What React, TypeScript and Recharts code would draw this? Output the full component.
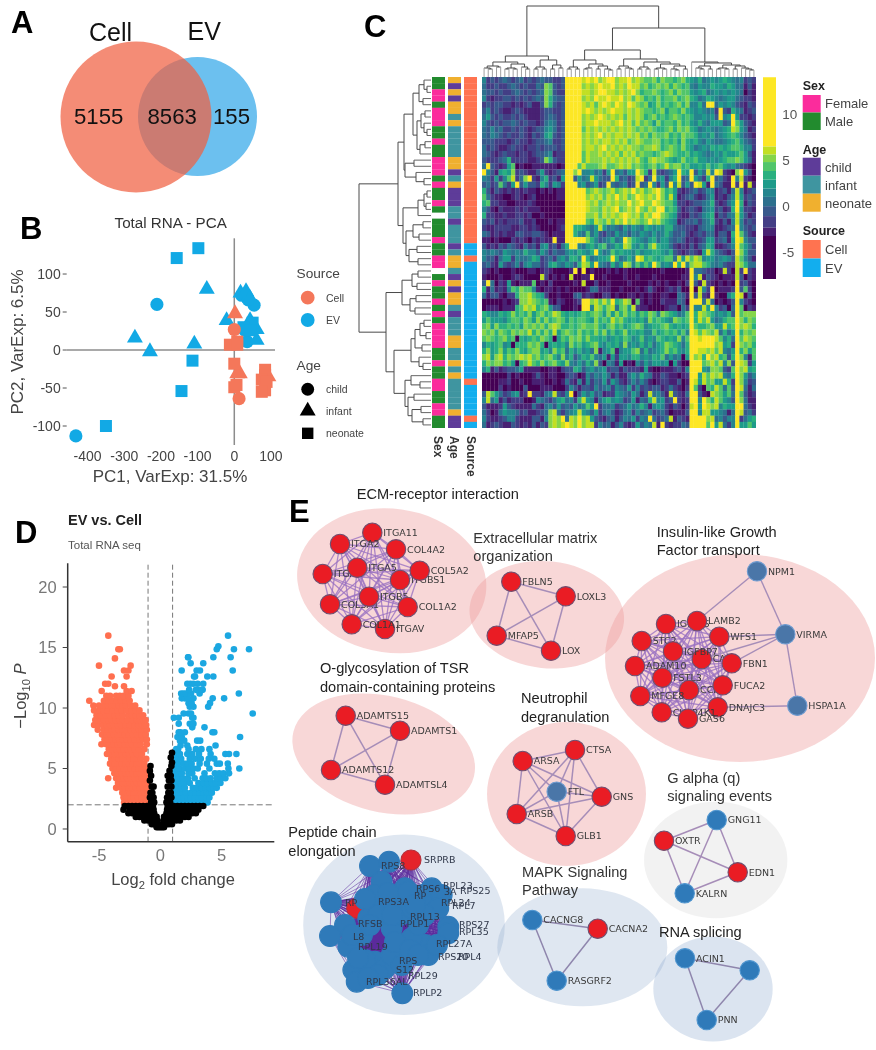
import {
  Bar,
  BarChart,
  ReferenceLine,
  Scatter,
  ScatterChart,
  Symbols,
  XAxis,
  YAxis,
} from "recharts";

const SANS = "'Liberation Sans', Arial, sans-serif";
const DEJAVU = "'DejaVu Sans', sans-serif";

// Panel A
const vennSets = [
  { name: "EV", x: 197.5, y: 116.5, r: 59.5, fill: "#6cc0ef", opacity: 1 },
  { name: "Cell", x: 136, y: 117, r: 75.5, fill: "#f05f41", opacity: 0.72 },
];

// Panel B
const pcaCellCircle = [[0, 27], [13, -64], [79, -39]];
const pcaCellTriangle = [[2, 48], [8, -31], [15, -31], [93, -35]];
const pcaCellSquare = [
  [-12, 7], [8, 11], [8, 7], [0, -18], [0, -49], [6, -46],
  [84, -26], [84, -33], [75, -39], [88, -42], [84, -53], [75, -55],
];
const pcaEvCircle = [[-211, 60], [-432, -113], [54, 59], [35, 11], [20, 72], [38, 66], [29, 26]];
const pcaEvTriangle = [
  [-75, 80], [-271, 16], [-230, -2], [-109, 8], [-21, 39], [17, 75],
  [32, 77], [43, 68], [61, 13], [61, 27], [43, 39],
];
const pcaEvSquare = [
  [-98, 134], [-157, 121], [-114, -14], [-144, -54], [-350, -100],
  [50, 36], [25, 30], [43, 26],
];
const pcaXTicks = [-400, -300, -200, -100, 0, 100];
const pcaYTicks = [-100, -50, 0, 50, 100];

// Panel C
const viridisSteps = [
  "#440154", "#482173", "#433e85", "#38598c", "#2d708e", "#25858e",
  "#1e9b8a", "#2ab07f", "#51c56a", "#85d54a", "#c2df23", "#fde725",
];
// spans going outward from zero, negative side first
const colorbarSpans = [-1.08, -1.26, -0.9, -4.7, 1, 0.9, 0.97, 0.94, 0.97, 0.83, 0.87, 7.5];
const colorbarFills = [
  "#38598c", "#433e85", "#482173", "#440154", "#2d708e", "#25858e",
  "#1e9b8a", "#2ab07f", "#51c56a", "#85d54a", "#c2df23", "#fde725",
];
const heatRows = [
  "5232343234 2323433223 bbbbabab9a bb9aab9a98 8979887897 6574565676 545232",
  "4223223432 3224398323 bbbb9a9aba ab9a9baa89 7898979878 5465576657 644131",
  "4332322343 2323498322 bbbbaa9abb aa9a9ab978 8987897988 6567456565 654021",
  "5212233232 3234397433 bbbb9a9baa baab9a8a97 8797889789 7645765456 643221",
  "2323322121 2311397323 bbbba9a8ab a9ba9ba989 6797878979 5574bb4656 532132",
  "3523211232 1111233223 bbbbaba9a9 abaa9a9a98 8789688797 6565452b32 754123",
  "4632322323 2111234323 bbbb9a9aba 9a9a8a9a97 8978789878 7556563b56 b62212",
  "5323233432 3221245423 bbbb9aabaa a9ab9a8a89 8697887978 6575466634 b86321",
  "4353422323 2123356423 bbbb8a9a9a 9a9a9a9898 9877897989 7645654567 a96412",
  "4354323223 2132367323 bbbb9a9ab9 a9aa9a9a89 7988978798 8756574567 875321",
  "3332221232 2123345223 bbbb9a9a9a a9a9a89a98 8997878697 6754654456 786432",
  "4232112322 1223233323 bbbb9aa9ab 9a9a9a9989 9a97898797 6456576767 887552",
  "4321232212 2123345122 bbbb8a99a9 a9a8a9a898 8789a98778 6765456576 678631",
  "3222347222 2112397322 bbbb8a999a 9a9a9a9a87 9a99876797 7866565678 898641",
  "4b32126801 0011111101 bbb8a8889a 889a9a8987 8978a89978 6676867865 643210",
  "b531676923 2113621234 bb9b556452 6b45366b97 2a32346b76 b364a5ba21 09b630",
  "5426258a24 9b21572316 bb3645a643 3b73423ab2 4b56257b34 b6427b3421 b5a210",
  "34238426b3 6332752652 bbb5634623 b434523b34 b5263b5a36 3ba61b4311 b2b1a1",
  "7313212121 2110101011 bbbbb89a98 9a89a9b9a8 9ab9786212 3423551231 4a5123",
  "8421100121 0120000011 bbbbb9a9a8 a9b9a89ba9 a9b97a6123 4212461213 5a6232",
  "7822110011 1210000000 bbbbba9a89 a9a99b9ab9 9ba9886221 2334572124 6b7132",
  "5310211121 2111000000 bbbbba998a 9ab89a9b98 a9bb787312 3214562312 7b6221",
  "7221121122 1200100000 bbbbb99a8a 9a9aba9a8a 9bb9876211 3235671324 5a6312",
  "3231212223 1120001011 bbbbb87a98 a8a9b9a989 b9a8765123 3424572131 5a5232",
  "2112222112 2121000012 bb776546a6 4543646547 6565774332 2134551123 4b5323",
  "4312121133 2233210111 bb75484632 4364535465 4645753342 1232441331 7b8421",
  "1101000212 1021211b11 bbbbb97534 5745b97654 6746643431 2123662341 6ba533",
  "3121324321 4231562314 7bb5467578 4576a96575 8a76642121 3134761123 5b8642",
  "5454365454 7553642433 5657657b64 5867665756 6776573212 3216a74321 3b9633",
  "5331466254 4576234256 4775b74566 7b74575ba7 8767884a6a 8a95664565 3a8531",
  "3421632352 5644236754 6537a96b54 3746a95868 6b8565b7b5 9aa8754532 2a9744",
  "2101000100 0110121000 01b0b01000 1010100000 0001000001 b4432201a2 0a2b21",
  "1000100121 0000a20101 0a0011b001 0000100100 0100000011 b5a1321011 1a3021",
  "3b40216101 1180102000 0010a00200 1000010000 1010100102 b31a210101 0b2310",
  "7141215879 8851011010 1000014411 1001000101 3100121300 b0a52b0111 2b3820",
  "4133102279 9a87620010 0034121002 2010011010 1001100431 b3a21b1005 7ba030",
  "0000010129 9a98781021 0012bb9a8a 8b78a90810 1002111430 bbb4a40101 3b5210",
  "0111011178 a9a7896330 0010bb5a97 9a4896a211 0000122042 b55a6b5230 4b8021",
  "7655767978 7968978a97 6767878986 9697978687 9859876458 b7a9875657 3b8999",
  "6866657887 9869797898 6878876978 7a89767675 9787659878 b7a8a64578 8b9798",
  "8969778786 9898979a97 7878988976 8978678985 6778976767 b8778966a7 8b9a97",
  "9897987989 8a79797a68 9879787979 6867967675 5867878685 ba8a98a474 6b7989",
  "8987897807 6787987068 7989797767 5676875685 6587676958 bbabbba857 4b8a98",
  "5767856077 7989706767 5978678965 7675956575 7467987647 bbbbbb9a67 2b9897",
  "7967968797 6899675978 4757564915 6815668947 4567978657 bbaa9a8a54 6b7968",
  "9a69a7989a 9a89789759 5735768546 1626657756 5768464506 b9a7b9a783 7b9518",
  "7989978607 8a87978976 9546475930 5416010536 4665606200 bbb89a8a59 3ba926",
  "5713123346 1111001102 3376356456 2331322216 1001112315 bbb6599832 8b9a67",
  "0000002010 0013101100 2320153546 4131146475 4113211012 bb6a8a9a54 7b9635",
  "0000112001 0011100101 4215152436 2642135353 1012211301 ba6a8966a7 2b9523",
  "0000201000 3000111000 2531332534 5254362523 2331242102 b82087a848 3ba414",
  "3a86423561 2b22145a32 5b03646341 2265436413 a4531a3214 bb310a9868 4b8312",
  "5a46131222 0015432467 4527a65146 7565236143 7a5623b212 bb5b97a865 3b9411",
  "3111263211 1142145363 4364586b24 4523464575 1565213202 ab6ba9a576 6bb421",
  "4201465542 3112349a42 456a653624 5312452534 5234201113 bb5aa66541 4ba342",
  "5211235521 1133159a9b 4a9b9a6321 3413546254 b4234a1321 bbbb9a4535 5b2467",
  "4123211321 2131329a9a ba9b9aa253 4135212635 4a1b212243 bbbb8b6a42 5b6686",
];
const sexTrack = "MMFFMFFFMMFMMFFFMFMMFM-MMMFMMFF-MFMMFMFMFFFFMMFMMFFMMFFMM";
const ageTrack = "ncncnnin iiiii nn c i n ccc ii c iii c i nn i c n c nn i c iii nn ii n i n iiiii n cc";
const sourceTrack = "CCCCCCCCCCCCCCCCCCCCCCCCCCC EE C EEEEEEEEEEEEEEEEEEE C EEEEE C E";
const trackColors: Record<string, string> = {
  F: "#fb2c9c", M: "#228b2e",
  c: "#5e3c99", i: "#3f95a0", n: "#f0b02f",
  C: "#ff7350", E: "#12aeee",
};

// Dendrograms: [merge position, left, right], 0 is a leaf
type Tree = 0 | [number, Tree, Tree];
const colTree: Tree = [6,
  [56,
    [62,
      [66, [68, 0, [69, 0, 0]], [67, 0, 0]],
      [64, [68, [69, 0, 0], [69, 0, 0]], [67, 0, [69, 0, 0]]]],
    [60, [67, [69, 0, 0], [69, 0, 0]], [65, [69, 0, 0], [68, 0, 0]]]],
  [28,
    [50,
      [60, [67, [69, 0, 0], [69, 0, 0]], [64, [68, [69, 0, 0], 0], [66, [69, 0, 0], [69, 0, [70, 0, 0]]]]],
      [59, [66, [69, 0, 0], [68, 0, [69, 0, 0]]],
        [62, [67, [69, 0, 0], [69, 0, 0]], [64, [68, [69, 0, 0], [69, 0, 0]], [66, [69, 0, [70, 0, 0]], [69, 0, 0]]]]]],
    [62, 0,
      [63, [66, [68, 0, [69, 0, 0]], [69, 0, 0]],
        [65, [68, [69, 0, 0], [69, 0, 0]], [66, [69, 0, 0], [68, 0, [69, 0, [70, 0, 0]]]]]]]],
];
const rowTree: Tree = [359,
  [398,
    [404,
      [413,
        [419, [424, 0, [427, 0, 0]], [423, 0, 0]],
        [417, [421, [425, 0, 0], [424, 0, [427, 0, 0]]], [420, [425, 0, 0], 0]]],
      [405, [414, 0, 0], [416, 0, [424, 0, 0]]]],
    [403,
      [418, [424, [427, 0, 0], [426, 0, 0]], 0],
      [406, [413, [423, 0, 0], [419, 0, 0]], [409, [417, 0, 0], [418, 0, 0]]]]],
  [386,
    [402, [412, [418, 0, 0], [417, 0, 0]], [410, [416, 0, 0], [415, 0, 0]]],
    [394,
      [411, [415, [420, [424, 0, 0], [426, 0, 0]], [422, 0, 0]], [419, 0, [423, 0, 0]]],
      [405, [411, 0, [420, 0, 0]], [408, [414, 0, 0], [412, [421, 0, 0], [423, 0, 0]]]]]],
];

// Panel D, rows of [-log10 p, log2 fold changes]
type VolcanoRow = [number, number[]];
const volcanoCellRows: VolcanoRow[] = [
  [2.2, [-2.95, -2.6, -2.3, -2, -1.7, -1.4, -1.1]],
  [2.6, [-3, -2.75, -2.45, -2.15, -1.85, -1.55, -1.25, -1]],
  [3, [-3.1, -2.8, -2.5, -2.2, -1.9, -1.6, -1.3, -1.05]],
  [3.4, [-3.6, -3.2, -2.9, -2.6, -2.3, -2, -1.7, -1.4, -1.1]],
  [3.8, [-3.45, -3.1, -2.8, -2.5, -2.2, -1.9, -1.6, -1.3, -1.05]],
  [4.2, [-4.25, -3.6, -3.3, -3, -2.7, -2.4, -2.1, -1.8, -1.5, -1.2]],
  [4.6, [-3.75, -3.45, -3.15, -2.85, -2.55, -2.25, -1.95, -1.65, -1.35, -1.05]],
  [5, [-3.9, -3.6, -3.3, -3, -2.7, -2.4, -2.1, -1.8, -1.5, -1.2]],
  [5.4, [-4.1, -3.75, -3.45, -3.15, -2.85, -2.55, -2.25, -1.95, -1.65, -1.3]],
  [5.8, [-4, -3.7, -3.4, -3.1, -2.8, -2.5, -2.2, -1.9, -1.6, -1.15]],
  [6.2, [-4.35, -4.05, -3.75, -3.45, -3.15, -2.85, -2.55, -2.25, -1.9, -1.5]],
  [6.6, [-4.2, -3.9, -3.6, -3.3, -3, -2.7, -2.4, -2.1, -1.75, -1.3]],
  [7, [-4.8, -4.4, -4.1, -3.8, -3.5, -3.2, -2.9, -2.6, -2.3, -1.95, -1.6, -1.1]],
  [7.4, [-4.55, -4.25, -3.95, -3.65, -3.35, -3.05, -2.75, -2.45, -2.1, -1.7, -1.4, -1.1]],
  [7.8, [-4.75, -4.4, -4.1, -3.8, -3.5, -3.2, -2.9, -2.6, -2.25, -1.9, -1.55, -1.2]],
  [8.2, [-5.1, -4.6, -4.3, -4, -3.7, -3.4, -3.1, -2.8, -2.45, -2.1, -1.75, -1.5, -1.25, -1.1]],
  [8.6, [-5.4, -5.05, -4.7, -4.4, -4.1, -3.8, -3.5, -3.2, -2.85, -2.5, -2.1, -1.8, -1.5, -1.3, -1.15]],
  [9, [-5.3, -5, -4.6, -4.25, -3.95, -3.65, -3.35, -3.05, -2.7, -2.3, -1.9, -1.65, -1.4, -1.2]],
  [9.4, [-5.2, -4.9, -4.45, -4.1, -3.75, -3.4, -3.05, -2.6, -2.3, -2, -1.7, -1.4]],
  [9.8, [-5.4, -4.95, -4.65, -4.3, -3.9, -3.5, -3.15, -2.75, -2.35, -2, -1.7]],
  [10.2, [-5.46, -5, -4.6, -4.25, -4, -3.7, -3.4, -3.1, -2.8, -2.4, -2.05]],
  [10.6, [-5.79, -4.6, -4.24, -3.9, -3.56, -3.2, -2.85, -2.5]],
  [11, [-4.4, -4.1, -3.6, -3.3, -3, -2.6]],
  [11.4, [-4.78, -2.75, -2.34]],
  [11.8, [-3.7, -2.96]],
  [12, [-4.5, -4.24]],
  [12.6, [-3.97, -2.75]],
  [13.1, [-2.96, -2.6]],
  [13.5, [-5, -2.42]],
  [14.1, [-3.7]],
  [14.85, [-3.42, -3.3]],
  [15.98, [-4.24]],
];
const volcanoEvRows: VolcanoRow[] = [
  [2.2, [1.1, 1.4, 1.7, 2, 2.3, 2.6, 2.9, 3.2, 3.5, 3.85]],
  [2.6, [1.05, 1.3, 1.6, 1.9, 2.2, 2.5, 2.8, 3.1, 3.4, 3.75, 4]],
  [3, [1.15, 1.5, 1.8, 2.1, 2.5, 2.85, 3.2, 3.5, 3.8, 4.2]],
  [3.4, [1.1, 1.4, 1.7, 2, 2.65, 3, 3.35, 3.7, 4, 4.35, 4.6]],
  [3.8, [1.05, 1.3, 1.6, 1.95, 2.4, 3.1, 3.5, 3.85, 4.2, 4.5, 4.9]],
  [4.2, [1.2, 1.5, 1.85, 2.25, 2.8, 3.45, 3.75, 4.1, 4.6, 4.95, 5.3]],
  [4.6, [1.05, 1.4, 1.75, 2.3, 2.6, 3.6, 4.45, 4.8, 5.15, 5.6]],
  [5, [1.2, 1.55, 2, 2.35, 2.7, 3.05, 4, 5.55, 6.44]],
  [5.4, [1.1, 1.45, 1.9, 2.2, 2.55, 3.2, 3.8, 4.6, 4.85, 5.5]],
  [5.8, [1.05, 1.35, 1.7, 2.4, 2.85, 3.3, 3.95, 4.4]],
  [6.2, [1.15, 1.6, 2.2, 2.6, 3.15, 4.1, 5.3, 5.6, 6.2]],
  [6.6, [1.3, 1.45, 2.3, 2.9, 3.35, 4]],
  [6.9, [1.65, 2.2, 4.5]],
  [7.3, [1.6, 1.95, 3, 3.25]],
  [7.6, [1.4, 1.75, 6.5]],
  [8, [1.5, 1.65, 2, 4.25, 4.4]],
  [8.4, [2.6, 3.6]],
  [8.7, [1.5, 2.4, 2.7]],
  [9.2, [1.1, 1.5, 2.6, 2.7]],
  [9.55, [1.9, 2.3, 2.5, 7.53]],
  [10.1, [2.4, 2.7, 3.9]],
  [10.4, [2.3, 2.55, 4.05]],
  [10.8, [1.75, 2, 2.25, 2.7, 4.27, 5.2]],
  [11.2, [1.7, 1.9, 2.1, 2.5, 3.2, 6.4]],
  [11.5, [2.35, 2.9, 3, 3.35, 3.45]],
  [12, [2.2, 2.45, 2.7, 3.05, 3.5]],
  [12.6, [2.75, 2.83, 3.83, 4.32]],
  [13.1, [1.74, 2.96, 3.23, 5.9]],
  [13.7, [2.47, 3.5]],
  [14.2, [2.26, 2.28, 4.32, 5.73]],
  [14.85, [4.6, 6, 7.23]],
  [15.1, [4.73]],
  [15.98, [5.52]],
];
const volcanoNsRows: VolcanoRow[] = [
  [0.15, [-0.3, -0.15, 0, 0.15, 0.3]],
  [0.4, [-0.7, -0.5, -0.35, -0.2, 0.2, 0.35, 0.5, 0.7, 0.95]],
  [0.7, [-1.3, -1, -0.8, -0.6, -0.4, -0.25, 0.25, 0.4, 0.6, 0.8, 1, 1.3, 1.6]],
  [1, [-2, -1.7, -1.4, -1.1, -0.8, -0.5, -0.3, 0.3, 0.5, 0.8, 1.1, 1.4, 1.7, 2, 2.3]],
  [1.3, [-2.6, -2.3, -2, -1.7, -1.4, -1.1, -0.8, -0.5, 0.5, 0.8, 1.1, 1.4, 1.7, 2, 2.3, 2.6, 2.9]],
  [1.6, [-3, -2.5, -2.2, -1.9, -1.6, -1.3, -1, -0.75, -0.55, 0.55, 0.75, 1, 1.3, 1.6, 1.9, 2.2, 2.5, 2.8, 3.1]],
  [1.9, [-2.9, -2.6, -2.3, -2, -1.7, -1.4, -1.1, -0.85, -0.6, 0.6, 0.85, 1.1, 1.4, 1.7, 2, 2.3, 2.6, 2.9, 3.2, 3.5]],
  [2.2, [-0.75, -0.5, 0.5, 0.8]],
  [2.6, [-0.85, -0.55, 0.55, 0.9]],
  [3, [-0.8, -0.65, 0.65, 0.85]],
  [3.5, [-0.7, -0.55, 0.6, 0.9]],
  [4, [-0.85, 0.7, 0.9]],
  [4.4, [-0.75, 0.6, 0.85]],
  [4.8, [-0.85, 0.75]],
  [5.2, [-0.8, 0.9]],
  [5.5, [0.95]],
  [5.9, [0.85]],
  [6.3, [0.95]],
];

// Panel E
type NodeKind = "red" | "steel" | "blue" | "pep" | "pepRed";
type NetNode = { name: string; x: number; y: number; kind: NodeKind };
const node = (name: string, x: number, y: number, kind: NodeKind = "red"): NetNode => ({ name, x, y, kind });

const ecmNodes = [
  node("ITGA11", 372.3, 532.7), node("ITGA2", 340, 544), node("COL4A2", 396, 549.3),
  node("ITGA1", 322.7, 574), node("ITGA5", 357.3, 567.7), node("ITGBS1", 400, 580),
  node("COL5A2", 419.7, 570.7), node("COL3A1", 330, 604.3), node("ITGB5", 369, 596.7),
  node("COL1A2", 407.7, 607), node("ITGAV", 385, 629), node("COL1A1", 351.7, 624.3),
];
const matrixNodes = [
  node("FBLN5", 511.3, 581.7), node("LOXL3", 565.7, 596.3),
  node("MFAP5", 496.7, 635.7), node("LOX", 551, 650.7),
];
const insulinRedNodes = [
  node("IGFALS", 666, 624), node("LAMB2", 697, 621), node("STC2", 641.7, 641),
  node("WFS1", 719.3, 636.7), node("CALU", 701.7, 659), node("IGFBP7", 673, 651.3),
  node("FBN1", 731.7, 663.3), node("ADAM10", 635, 666), node("FSTL3", 662.3, 677.7),
  node("CCN1", 689, 690), node("FUCA2", 722.7, 685.3), node("MFGE8", 640.3, 696),
  node("DNAJC3", 717.7, 707.3), node("CKAP4K1", 661.7, 712.3), node("GAS6", 688, 718.7),
];
const insulinSteelNodes = [
  node("NPM1", 757, 571.3, "steel"), node("VIRMA", 785.3, 634.3, "steel"), node("HSPA1A", 797.3, 705.7, "steel"),
];
const insulinLinks = [
  ["NPM1", "LAMB2"], ["NPM1", "VIRMA"], ["VIRMA", "WFS1"], ["VIRMA", "FBN1"], ["VIRMA", "CALU"],
  ["VIRMA", "HSPA1A"], ["HSPA1A", "DNAJC3"],
];
const tsrNodes = [
  node("ADAMTS15", 345.7, 715.7), node("ADAMTS1", 400, 730.7),
  node("ADAMTS12", 331, 770), node("ADAMTSL4", 385, 784.7),
];
const neutrophilNodes = [
  node("ARSA", 522.7, 761), node("CTSA", 575, 750), node("FTL", 556.7, 791.7, "steel"),
  node("GNS", 601.7, 796.7), node("ARSB", 516.7, 814), node("GLB1", 565.7, 836),
];
const gAlphaNodes = [
  node("GNG11", 716.7, 820, "blue"), node("OXTR", 664, 840.7),
  node("EDN1", 737.7, 872.3), node("KALRN", 684.7, 893.3, "blue"),
];
const mapkNodes = [
  node("CACNG8", 532.3, 920, "blue"), node("CACNA2", 597.7, 928.7), node("RASGRF2", 556.7, 980.7, "blue"),
];
const spliceNodes = [
  node("ACIN1", 685, 958.3, "blue"), node("", 749.7, 970.3, "blue"), node("PNN", 706.7, 1020, "blue"),
];
const pepAt = (x: number, y: number) => node("", x, y, "pep");
const peptideNodes = [
  node("", 356.7, 908.3, "pepRed"), pepAt(370, 866), pepAt(389, 861.7), pepAt(381.7, 881.7),
  node("", 411, 860, "pepRed"), pepAt(331, 902.3), pepAt(345, 925), pepAt(330, 936),
  pepAt(348.3, 946.7), pepAt(353.3, 970), pepAt(356.7, 981.7), pepAt(375, 961.7), pepAt(385, 968.3),
  pepAt(402.3, 993.3), pepAt(448.3, 926.7), pepAt(448.3, 933.3), pepAt(425, 945), pepAt(428.3, 955),
  pepAt(405, 888.3), pepAt(431.7, 888.3), pepAt(423.3, 895), pepAt(441.7, 895), pepAt(398.3, 905),
  pepAt(385, 901.7), pepAt(368.3, 918.3), pepAt(391.7, 928.3), pepAt(411.7, 938.3), pepAt(400, 958.3),
  pepAt(418.3, 925), pepAt(378.3, 915), pepAt(438.3, 908.3), pepAt(365, 960), pepAt(391.7, 955),
  pepAt(408.3, 891.7), pepAt(401.7, 965), pepAt(375, 895), pepAt(365, 899), pepAt(400, 915),
  pepAt(412, 908), pepAt(425, 915), pepAt(362, 935), pepAt(352, 935), pepAt(370, 925), pepAt(395, 942),
  pepAt(410, 950), pepAt(378, 975), pepAt(368, 978), pepAt(392, 915), pepAt(358, 958), pepAt(415, 905),
  pepAt(388, 893), pepAt(418, 955), pepAt(437, 945),
];
const peptideLabels: [string, number, number][] = [
  ["RPS8", 381, 869], ["SRPRB", 424, 863], ["RPL23", 443, 889], ["RPS25", 460, 894], ["3A", 444, 895],
  ["RPL24", 441, 906], ["RPL7", 452, 909], ["RP", 345, 906], ["RPS3A", 378, 905], ["RFSB", 358, 927],
  ["RPL13", 410, 920], ["RPLP1", 400, 927], ["RPS27", 459, 928], ["RPL35", 459, 935], ["L8", 353, 940],
  ["RPL19", 358, 950], ["RPL27A", 436, 947], ["RPS20", 438, 960], ["RPL4", 458, 960], ["RPS", 399, 964],
  ["S12", 396, 973], ["RPL29", 408, 979], ["RPL36AL", 366, 985], ["RPLP2", 413, 996], ["RPS6", 416, 892],
  ["RP", 414, 899],
];

const clusterShapes = [
  { x: 391.7, y: 580.7, rx: 95, ry: 72, tilt: 8, fill: "#ee9a9a", opacity: 0.4 },
  { x: 546.8, y: 614.7, rx: 77.5, ry: 53.5, tilt: 6, fill: "#ee9a9a", opacity: 0.4 },
  { x: 740, y: 658, rx: 135, ry: 104, tilt: 0, fill: "#ee9a9a", opacity: 0.4 },
  { x: 383.7, y: 754, rx: 93, ry: 58, tilt: 14, fill: "#ee9a9a", opacity: 0.4 },
  { x: 566.5, y: 794, rx: 79.5, ry: 72, tilt: 0, fill: "#ee9a9a", opacity: 0.4 },
  { x: 715.7, y: 860, rx: 71.7, ry: 58.3, tilt: 0, fill: "#b8b8b8", opacity: 0.18 },
  { x: 404, y: 924.7, rx: 100.8, ry: 90.3, tilt: 0, fill: "#7f9fc9", opacity: 0.25 },
  { x: 582.3, y: 947.3, rx: 85, ry: 59, tilt: 0, fill: "#7f9fc9", opacity: 0.25 },
  { x: 713, y: 989, rx: 59.7, ry: 52.5, tilt: 0, fill: "#7f9fc9", opacity: 0.28 },
];

const nodeStyles = {
  red: { fill: "#ea1c24", stroke: "#6e4f70", r: 9.7 },
  steel: { fill: "#4a76a8", stroke: "#6f9bd0", r: 9.7 },
  blue: { fill: "#2f7ab9", stroke: "#4f95cf", r: 9.7 },
  pep: { fill: "#2f7ab9", stroke: "#2f7ab9", r: 10.4 },
  pepRed: { fill: "#e5232a", stroke: "#b5303a", r: 10 },
};

type PageLabel = {
  x: number; y: number; text: string; size: number; weight?: string; fill?: string;
  anchor?: string; rotate?: number; sub?: string; tail?: string; italicTail?: boolean;
};
const panelLetter = (text: string, x: number, y: number): PageLabel => ({ x, y, text, size: 31, weight: "bold", fill: "#000" });
const pageLabels: PageLabel[] = [
  panelLetter("A", 11, 33), panelLetter("B", 20, 239), panelLetter("C", 364, 37),
  panelLetter("D", 15, 543), panelLetter("E", 289, 522),
  // A
  { x: 89, y: 41, text: "Cell", size: 25, fill: "#111" },
  { x: 187.5, y: 40, text: "EV", size: 25, fill: "#111" },
  { x: 74, y: 124, text: "5155", size: 22.2, fill: "#111" },
  { x: 147.5, y: 124, text: "8563", size: 22.2, fill: "#111" },
  { x: 213, y: 124, text: "155", size: 22.2, fill: "#111" },
  // B
  { x: 170.7, y: 228, text: "Total RNA - PCA", size: 15.2, fill: "#333", anchor: "middle" },
  { x: 170, y: 482, text: "PC1, VarExp: 31.5%", size: 17, fill: "#444", anchor: "middle" },
  { x: 23, y: 342, text: "PC2, VarExp: 6.5%", size: 17, fill: "#444", anchor: "middle", rotate: -90 },
  { x: 296.5, y: 278, text: "Source", size: 13.7, fill: "#444" },
  { x: 326, y: 301.5, text: "Cell", size: 10.5, fill: "#444" },
  { x: 326, y: 324, text: "EV", size: 10.5, fill: "#444" },
  { x: 296.5, y: 370, text: "Age", size: 13.7, fill: "#444" },
  { x: 326, y: 393, text: "child", size: 10.5, fill: "#444" },
  { x: 326, y: 415, text: "infant", size: 10.5, fill: "#444" },
  { x: 326, y: 437, text: "neonate", size: 10.5, fill: "#444" },
  // C
  { x: 434, y: 436, text: "Sex", size: 12, weight: "bold", fill: "#333", rotate: 90 },
  { x: 450, y: 436, text: "Age", size: 12, weight: "bold", fill: "#333", rotate: 90 },
  { x: 466.5, y: 436, text: "Source", size: 12, weight: "bold", fill: "#333", rotate: 90 },
  { x: 802.7, y: 90, text: "Sex", size: 12.5, weight: "bold", fill: "#222" },
  { x: 825, y: 108, text: "Female", size: 13, fill: "#444" },
  { x: 825, y: 126, text: "Male", size: 13, fill: "#444" },
  { x: 802.7, y: 154, text: "Age", size: 12.5, weight: "bold", fill: "#222" },
  { x: 825, y: 172, text: "child", size: 13, fill: "#444" },
  { x: 825, y: 190, text: "infant", size: 13, fill: "#444" },
  { x: 825, y: 208, text: "neonate", size: 13, fill: "#444" },
  { x: 802.7, y: 235, text: "Source", size: 12.5, weight: "bold", fill: "#222" },
  { x: 825, y: 254, text: "Cell", size: 13, fill: "#444" },
  { x: 825, y: 273, text: "EV", size: 13, fill: "#444" },
  // D
  { x: 68, y: 525, text: "EV vs. Cell", size: 14.5, weight: "bold", fill: "#222" },
  { x: 68, y: 549, text: "Total RNA seq", size: 11.5, fill: "#555" },
  { x: 173, y: 885, text: "Log", sub: "2", tail: " fold change", size: 16.5, fill: "#444", anchor: "middle" },
  { x: 26, y: 696, text: "−Log", sub: "10", tail: " P", italicTail: true, size: 16.5, fill: "#444", anchor: "middle", rotate: -90 },
  // E
  { x: 356.7, y: 499, text: "ECM-receptor interaction", size: 14.6, fill: "#222" },
  { x: 473.3, y: 543, text: "Extracellular matrix", size: 14.6, fill: "#333" },
  { x: 473.3, y: 561, text: "organization", size: 14.6, fill: "#333" },
  { x: 656.7, y: 536.7, text: "Insulin-like Growth", size: 14.6, fill: "#222" },
  { x: 656.7, y: 554.5, text: "Factor transport", size: 14.6, fill: "#222" },
  { x: 320, y: 672.7, text: "O-glycosylation of TSR", size: 14.6, fill: "#222" },
  { x: 320, y: 691.5, text: "domain-containing proteins", size: 14.6, fill: "#222" },
  { x: 521, y: 703, text: "Neutrophil", size: 14.6, fill: "#222" },
  { x: 521, y: 722, text: "degranulation", size: 14.6, fill: "#222" },
  { x: 667.3, y: 783, text: "G alpha (q)", size: 14.6, fill: "#333" },
  { x: 667.3, y: 801, text: "signaling events", size: 14.6, fill: "#333" },
  { x: 288.3, y: 836.7, text: "Peptide chain", size: 14.6, fill: "#222" },
  { x: 288.3, y: 855.7, text: "elongation", size: 14.6, fill: "#222" },
  { x: 522, y: 876.7, text: "MAPK Signaling", size: 14.6, fill: "#333" },
  { x: 522, y: 895, text: "Pathway", size: 14.6, fill: "#333" },
  { x: 659, y: 936.7, text: "RNA splicing", size: 14.6, fill: "#222" },
];

const legendSwatches = [
  { x: 802.7, y: 95, w: 18, h: 17.5, fill: trackColors.F },
  { x: 802.7, y: 112.5, w: 18, h: 17.5, fill: trackColors.M },
  { x: 802.7, y: 157.7, w: 18, h: 18, fill: trackColors.c },
  { x: 802.7, y: 175.7, w: 18, h: 18, fill: trackColors.i },
  { x: 802.7, y: 193.7, w: 18, h: 18, fill: trackColors.n },
  { x: 802.7, y: 240, w: 18, h: 18.5, fill: trackColors.C },
  { x: 802.7, y: 258.5, w: 18, h: 18.5, fill: trackColors.E },
];
const pcaLegend = [
  { x: 307.7, y: 297.7, type: "circle", fill: "#f4775a", size: 150 },
  { x: 307.7, y: 320, type: "circle", fill: "#12a9e5", size: 150 },
  { x: 307.7, y: 389.3, type: "circle", fill: "#000", size: 130 },
  { x: 307.7, y: 411, type: "triangle", fill: "#000", size: 110 },
  { x: 307.7, y: 433.3, type: "square", fill: "#000", size: 130 },
];

// derived tables
const toPoints = (pairs: number[][]) => pairs.map(([x, y]) => ({ x, y }));
const fromRows = (rows: VolcanoRow[]) => rows.flatMap(([y, xs]) => xs.map((x) => ({ x, y })));
const compact = (s: string) => s.replace(/ /g, "");

const heatCells = heatRows.flatMap((row, r) =>
  [...compact(row)].map((ch, c) => ({ x: c + 0.5, y: r + 0.5, level: parseInt(ch, 36) })),
);
const colorbarRow = Object.fromEntries(colorbarSpans.map((v, i) => [`s${i}`, v]));

type Segment = { x: number; y: number; dx: number; dy: number; stroke: string; width: number; opacity?: number };

function layoutTree(
  tree: Tree,
  cursor: { i: number },
  leafPos: (i: number) => number,
  leafEnd: number,
  horizontal: boolean,
  out: Segment[],
  stemColor: string,
  leafColor: string,
): { pos: number; h: number } {
  if (tree === 0) return { pos: leafPos(cursor.i++), h: leafEnd };
  const [h, left, right] = tree;
  const a = layoutTree(left, cursor, leafPos, leafEnd, horizontal, out, stemColor, leafColor);
  const b = layoutTree(right, cursor, leafPos, leafEnd, horizontal, out, stemColor, leafColor);
  const push = (p1: number, h1: number, dp: number, dh: number, stroke: string) =>
    out.push(
      horizontal
        ? { x: h1, y: p1, dx: dh, dy: dp, stroke, width: 1 }
        : { x: p1, y: h1, dx: dp, dy: dh, stroke, width: 1 },
    );
  push(a.pos, h, b.pos - a.pos, 0, stemColor);
  push(a.pos, h, 0, a.h - h, left === 0 ? leafColor : stemColor);
  push(b.pos, h, 0, b.h - h, right === 0 ? leafColor : stemColor);
  return { pos: (a.pos + b.pos) / 2, h };
}

const dendroSegments: Segment[] = [];
layoutTree(colTree, { i: 0 }, (i) => 482 + (i + 0.5) * (274 / 66), 77, false, dendroSegments, "#4a4a4a", "#a0a0a0");
layoutTree(rowTree, { i: 0 }, (i) => 77 + (i + 0.5) * (351 / 57), 431, true, dendroSegments, "#4a4a4a", "#666");

const allPairs = (nodes: NetNode[], stroke: string, width: number, opacity = 1): Segment[] =>
  nodes.flatMap((a, i) =>
    nodes.slice(i + 1).map((b) => ({ x: a.x, y: a.y, dx: b.x - a.x, dy: b.y - a.y, stroke, width, opacity })),
  );
const insulinNodes = [...insulinRedNodes, ...insulinSteelNodes];
const insulinExtra: Segment[] = insulinLinks.map(([from, to]) => {
  const a = insulinNodes.find((n) => n.name === from)!;
  const b = insulinNodes.find((n) => n.name === to)!;
  return { x: a.x, y: a.y, dx: b.x - a.x, dy: b.y - a.y, stroke: "#a68db8", width: 1.4 };
});
const networkEdges: Segment[] = [
  ...allPairs(ecmNodes, "#9a72c2", 1.3, 0.8),
  ...allPairs(matrixNodes, "#a68db8", 1.5),
  ...allPairs(insulinRedNodes, "#9a72c2", 1.3, 0.8),
  ...insulinExtra,
  ...allPairs(tsrNodes, "#a68db8", 1.5),
  ...allPairs(neutrophilNodes, "#a68db8", 1.5),
  ...allPairs(gAlphaNodes, "#a68db8", 1.5),
  ...allPairs(mapkNodes, "#8f86ad", 1.5),
  ...allPairs(spliceNodes, "#8f86ad", 1.5),
  ...allPairs(peptideNodes, "#5b2a9d", 0.9, 0.6),
];
const networkNodes = [
  ...ecmNodes, ...matrixNodes, ...insulinNodes, ...tsrNodes, ...neutrophilNodes,
  ...gAlphaNodes, ...mapkNodes, ...spliceNodes, ...peptideNodes,
];
const peptideLabelPoints = peptideLabels.map(([text, x, y]) => ({ text, x, y }));

// shapes
const CircleMark = ({ cx, cy, payload }: any) => (
  <circle cx={cx} cy={cy} r={payload.r} fill={payload.fill} fillOpacity={payload.opacity} />
);
const EllipseMark = ({ cx, cy, payload }: any) => (
  <ellipse
    cx={cx}
    cy={cy}
    rx={payload.rx}
    ry={payload.ry}
    fill={payload.fill}
    fillOpacity={payload.opacity}
    transform={`rotate(${payload.tilt} ${cx} ${cy})`}
  />
);
const SegmentMark = ({ cx, cy, payload }: any) => (
  <line
    x1={cx}
    y1={cy}
    x2={cx + payload.dx}
    y2={cy + payload.dy}
    stroke={payload.stroke}
    strokeWidth={payload.width}
    strokeOpacity={payload.opacity ?? 1}
  />
);
const NodeMark = ({ cx, cy, payload }: any) => {
  const s = nodeStyles[payload.kind as NodeKind];
  return (
    <g>
      <circle cx={cx} cy={cy} r={s.r} fill={s.fill} stroke={s.stroke} strokeWidth={1.1} />
      {payload.name && (
        <text x={cx + 11} y={cy + 3.4} fontSize={9.5} fontFamily={DEJAVU} fill="#3a3a3a">
          {payload.name}
        </text>
      )}
    </g>
  );
};
const NetworkText = ({ cx, cy, payload }: any) => (
  <text x={cx} y={cy} fontSize={9.5} fontFamily={DEJAVU} fill="#30384a">
    {payload.text}
  </text>
);
const SwatchMark = ({ cx, cy, payload }: any) => (
  <rect x={cx} y={cy} width={payload.w} height={payload.h} fill={payload.fill} />
);
const LegendSymbol = ({ cx, cy, payload }: any) => (
  <Symbols cx={cx} cy={cy} type={payload.type} size={payload.size} fill={payload.fill} />
);
const LabelMark = ({ cx, cy, payload: p }: any) => (
  <text
    x={cx}
    y={cy}
    fontSize={p.size}
    fontWeight={p.weight ?? "normal"}
    fontFamily={SANS}
    fill={p.fill ?? "#333"}
    textAnchor={p.anchor ?? "start"}
    transform={p.rotate ? `rotate(${p.rotate} ${cx} ${cy})` : undefined}
  >
    {p.text}
    {p.sub && (
      <tspan fontSize={p.size * 0.68} dy={p.size * 0.22}>
        {p.sub}
      </tspan>
    )}
    {p.tail && (
      <tspan dy={-p.size * 0.22} fontStyle={p.italicTail ? "italic" : "normal"}>
        {p.tail}
      </tspan>
    )}
  </text>
);
const HeatCell = ({ cx, cy, payload }: any) => (
  <rect
    x={cx - 2.08}
    y={cy - 3.09}
    width={4.32}
    height={6.34}
    fill={viridisSteps[payload.level]}
  />
);
const TrackCell = ({ cx, cy, payload }: any) =>
  trackColors[payload.code] ? (
    <rect x={cx - 6.5} y={cy - 3.09} width={13} height={6.3} fill={trackColors[payload.code]} />
  ) : (
    <g />
  );

function AnnotationTrack({ codes, left }: { codes: string; left: number }) {
  const cells = [...compact(codes)].map((code, i) => ({ x: 0.5, y: i + 0.5, code }));
  return (
    <div style={{ position: "absolute", left, top: 77 }}>
      <ScatterChart width={13} height={351} margin={{ top: 0, right: 0, bottom: 0, left: 0 }}>
        <XAxis type="number" dataKey="x" domain={[0, 1]} hide />
        <YAxis type="number" dataKey="y" domain={[0, 57]} reversed hide />
        <Scatter data={cells} shape={TrackCell} isAnimationActive={false} />
      </ScatterChart>
    </div>
  );
}

const PCA_ORANGE = "#f4775a";
const PCA_BLUE = "#12a9e5";
const pcaMark = (type: "circle" | "triangle" | "square", size: number, fill: string) =>
  ({ cx, cy }: any) => <Symbols cx={cx} cy={cy} type={type} size={size} fill={fill} />;
const volcanoDot = (fill: string) => ({ cx, cy }: any) => <circle cx={cx} cy={cy} r={3.3} fill={fill} />;

const pcaSeries = [
  { points: pcaEvCircle, mark: pcaMark("circle", 135, PCA_BLUE) },
  { points: pcaEvTriangle, mark: pcaMark("triangle", 110, PCA_BLUE) },
  { points: pcaEvSquare, mark: pcaMark("square", 144, PCA_BLUE) },
  { points: pcaCellCircle, mark: pcaMark("circle", 135, PCA_ORANGE) },
  { points: pcaCellTriangle, mark: pcaMark("triangle", 110, PCA_ORANGE) },
  { points: pcaCellSquare, mark: pcaMark("square", 144, PCA_ORANGE) },
];

export default function App() {
  const pcaTick = { fontSize: 14, fontFamily: SANS, fill: "#444" };
  const volcanoTick = { fontSize: 16.5, fontFamily: SANS, fill: "#777" };
  return (
    <div
      style={{
        position: "absolute",
        left: 0,
        top: 0,
        width: 876,
        height: 1050,
        background: "#fff",
        overflow: "hidden",
        filter: "blur(0.4px)",
      }}
    >
      {/* page layer: venn, networks, dendrograms, legends and text, in pixel units */}
      <div style={{ position: "absolute", left: 0, top: 0 }}>
        <ScatterChart width={876} height={1050} margin={{ top: 0, right: 0, bottom: 0, left: 0 }}>
          <XAxis type="number" dataKey="x" domain={[0, 876]} hide />
          <YAxis type="number" dataKey="y" domain={[0, 1050]} reversed hide />
          <Scatter data={vennSets} shape={CircleMark} isAnimationActive={false} />
          <Scatter data={clusterShapes} shape={EllipseMark} isAnimationActive={false} />
          <Scatter data={dendroSegments} shape={SegmentMark} isAnimationActive={false} />
          <Scatter data={networkEdges} shape={SegmentMark} isAnimationActive={false} />
          <Scatter data={networkNodes} shape={NodeMark} isAnimationActive={false} />
          <Scatter data={peptideLabelPoints} shape={NetworkText} isAnimationActive={false} />
          <Scatter data={legendSwatches} shape={SwatchMark} isAnimationActive={false} />
          <Scatter data={pcaLegend} shape={LegendSymbol} isAnimationActive={false} />
          <Scatter data={pageLabels} shape={LabelMark} isAnimationActive={false} />
        </ScatterChart>
      </div>

      {/* B */}
      <div style={{ position: "absolute", left: 0, top: 230 }}>
        <ScatterChart width={290} height={240} margin={{ top: 8.3, right: 15, bottom: 0, left: 0 }}>
          <XAxis
            type="number"
            dataKey="x"
            domain={[-457, 111]}
            ticks={pcaXTicks}
            height={25}
            axisLine={false}
            tickLine={false}
            tickSize={0}
            tickMargin={6}
            tick={pcaTick}
          />
          <YAxis
            type="number"
            dataKey="y"
            domain={[-125, 147]}
            ticks={pcaYTicks}
            width={66.7}
            axisLine={false}
            tickSize={4}
            tickMargin={2}
            tickLine={{ stroke: "#555" }}
            tick={pcaTick}
          />
          <ReferenceLine x={0} stroke="#8c8c8c" strokeWidth={1.5} />
          <ReferenceLine y={0} stroke="#8c8c8c" strokeWidth={1.5} />
          {pcaSeries.map((s, i) => (
            <Scatter key={i} data={toPoints(s.points)} shape={s.mark} isAnimationActive={false} />
          ))}
        </ScatterChart>
      </div>

      {/* C */}
      <AnnotationTrack codes={sexTrack} left={431.7} />
      <AnnotationTrack codes={ageTrack} left={447.7} />
      <AnnotationTrack codes={sourceTrack} left={464.3} />
      <div style={{ position: "absolute", left: 482, top: 77 }}>
        <ScatterChart width={274} height={351} margin={{ top: 0, right: 0, bottom: 0, left: 0 }}>
          <XAxis type="number" dataKey="x" domain={[0, 66]} hide />
          <YAxis type="number" dataKey="y" domain={[0, 57]} reversed hide />
          <Scatter data={heatCells} shape={HeatCell} isAnimationActive={false} />
        </ScatterChart>
      </div>
      <div style={{ position: "absolute", left: 762.7, top: 76.7 }}>
        <BarChart
          width={46}
          height={202}
          data={[colorbarRow]}
          stackOffset="sign"
          barCategoryGap={0}
          margin={{ top: 0, right: 0, bottom: 0, left: 0 }}
        >
          <XAxis hide />
          <YAxis
            orientation="right"
            width={32.7}
            type="number"
            domain={[-7.9, 14]}
            ticks={[-5, 0, 5, 10]}
            axisLine={false}
            tickLine={false}
            tickSize={0}
            tickMargin={6}
            allowDataOverflow
            tick={{ fontSize: 13.5, fontFamily: SANS, fill: "#555" }}
          />
          {colorbarSpans.map((_, i) => (
            <Bar key={i} dataKey={`s${i}`} stackId="bar" fill={colorbarFills[i]} isAnimationActive={false} />
          ))}
        </BarChart>
      </div>

      {/* D */}
      <div style={{ position: "absolute", left: 0, top: 555 }}>
        <ScatterChart width={285} height={320} margin={{ top: 8.3, right: 10.7, bottom: 0, left: 0 }}>
          <XAxis
            type="number"
            dataKey="x"
            domain={[-7.55, 9.29]}
            ticks={[-5, 0, 5]}
            height={33.3}
            axisLine={{ stroke: "#333", strokeWidth: 1.5 }}
            tickLine={false}
            tickSize={0}
            tickMargin={8}
            tick={volcanoTick}
          />
          <YAxis
            type="number"
            dataKey="y"
            domain={[-1.05, 21.96]}
            ticks={[0, 5, 10, 15, 20]}
            width={67.7}
            axisLine={{ stroke: "#333", strokeWidth: 1.5 }}
            tickSize={5}
            tickMargin={6}
            tickLine={{ stroke: "#444" }}
            tick={volcanoTick}
          />
          <Scatter data={fromRows(volcanoCellRows)} shape={volcanoDot("#ff6f4f")} isAnimationActive={false} />
          <Scatter data={fromRows(volcanoEvRows)} shape={volcanoDot("#1ba7e1")} isAnimationActive={false} />
          <Scatter data={fromRows(volcanoNsRows)} shape={volcanoDot("#000")} isAnimationActive={false} />
          <ReferenceLine x={-1} stroke="#777" strokeDasharray="5 3" />
          <ReferenceLine x={1} stroke="#777" strokeDasharray="5 3" />
          <ReferenceLine y={2} stroke="#777" strokeDasharray="6 3" />
        </ScatterChart>
      </div>
    </div>
  );
}
